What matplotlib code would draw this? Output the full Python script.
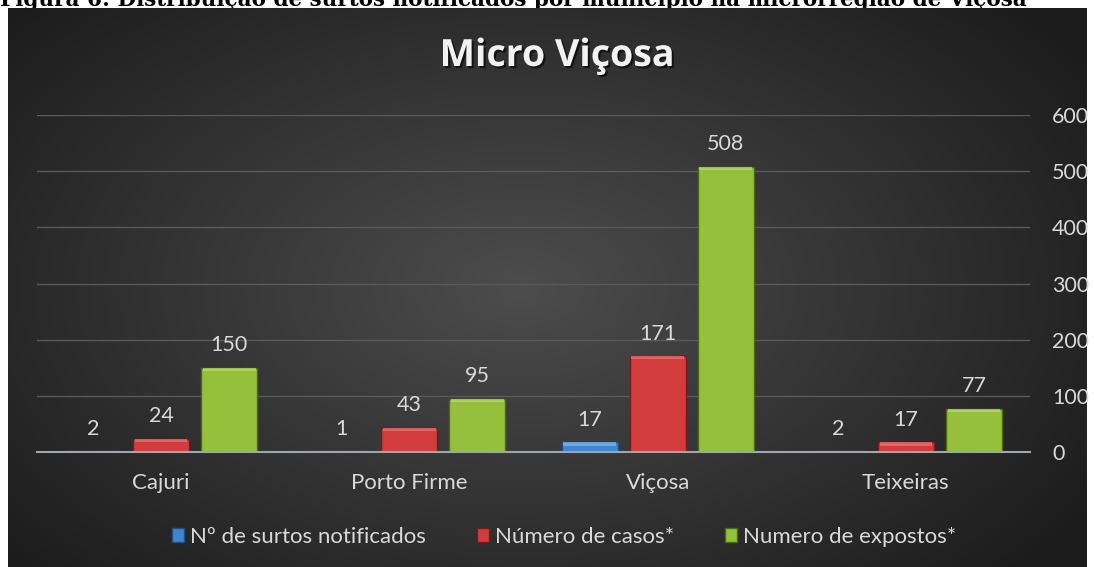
import numpy as np
import matplotlib.pyplot as plt
import matplotlib.patheffects as pe
from matplotlib.patches import Patch

categories = ["Cajuri", "Porto Firme", "Viçosa", "Teixeiras"]
surtos = [2, 1, 17, 2]
casos = [24, 43, 171, 17]
expostos = [150, 95, 508, 77]
series_names = ["Nº de surtos notificados", "Número de casos*", "Numero de expostos*"]
yticks = [0, 100, 200, 300, 400, 500, 600]

colors = ["#3f86d2", "#d23c3c", "#95c03c"]
tops = ["#7fb4ec", "#ec7373", "#b9dc6c"]
edges = ["#24507f", "#7a1a1a", "#4d6a17"]
text_c = "#d9d9d9"
font = "Lato"

fig = plt.figure(figsize=(10.94, 5.67), dpi=100)
fig.patch.set_facecolor("white")

# dark panel with radial gradient
bg = fig.add_axes([8 / 1094, 0, 1079 / 1094, 559 / 567])
yy, xx = np.mgrid[-1:1:300j, -1:1:600j]
r = np.sqrt((xx + 0.05) ** 2 + (yy * 0.85) ** 2)
v = 0.30 - 0.15 * np.clip(r, 0, 1.25)
bg.imshow(np.dstack([v, v, v]), aspect="auto", extent=[0, 1, 0, 1])
bg.set_axis_off()

# caption, cut off at the top as in the source page
fig.text(0.0, 1.0 - 6 / 567, "Figura 6: Distribuição de surtos notificados por município na microrregião de Viçosa",
         ha="left", va="baseline", fontsize=15.5, fontweight="bold", family="DejaVu Serif", color="black",
         zorder=-1)

ax = fig.add_axes([37 / 1094, 1 - 452 / 567, 993 / 1094, 337 / 567])
ax.patch.set_alpha(0)
x = np.arange(len(categories))
width = 0.226
offset = 0.274
series = [surtos, casos, expostos]
for i, vals in enumerate(series):
    pos = x + (i - 1) * offset
    ax.bar(pos, vals, width, color=colors[i], edgecolor=edges[i], linewidth=1, zorder=3)
    # bevel highlight on top
    bev = [min(v, 6) for v in vals]
    ax.bar(pos, bev, width * 0.94, bottom=[v - b for v, b in zip(vals, bev)],
           color=tops[i], linewidth=0, zorder=4, alpha=0.75)
    for p, v in zip(pos, vals):
        ax.text(p, v + 22, str(v), ha="center", va="bottom", fontsize=15.5, color=text_c,
                family=font, zorder=5)

ax.set_xlim(-0.5, len(categories) - 0.5)
ax.set_ylim(0, 600)
ax.set_yticks(yticks)
ax.yaxis.tick_right()
ax.tick_params(axis="y", length=0, pad=16, labelsize=15.5, labelcolor=text_c)
ax.set_xticks(x)
ax.set_xticklabels(categories)
ax.tick_params(axis="x", length=0, pad=15, labelsize=16, labelcolor=text_c)
for t in ax.get_xticklabels() + ax.get_yticklabels():
    t.set_family(font)
ax.grid(axis="y", color="#5a5a5a", linewidth=1, zorder=0)
for s in ["top", "left", "right"]:
    ax.spines[s].set_visible(False)
ax.spines["bottom"].set_color("#a0a6ae")
ax.spines["bottom"].set_linewidth(1.5)
ax.spines["bottom"].set_zorder(6)

fig.text(557 / 1094, 1 - 56 / 567, "Micro Viçosa", ha="center", va="center", fontsize=27,
         fontweight="bold", color="#f2f2f2", family="Open Sans",
         path_effects=[pe.withSimplePatchShadow(offset=(1.5, -1.5), shadow_rgbFace="black", alpha=0.6)])

handles = [Patch(facecolor=colors[i], edgecolor=edges[i]) for i in range(3)]
leg = fig.legend(handles, series_names, loc="center", bbox_to_anchor=(564 / 1094, 1 - 537 / 567),
                 ncol=3, frameon=False, handlelength=0.55, handleheight=0.55,
                 handletextpad=0.25, columnspacing=2.3, prop={"family": font, "size": 16})
for t in leg.get_texts():
    t.set_color(text_c)

fig.savefig("out.png", dpi=100, facecolor=fig.get_facecolor())
